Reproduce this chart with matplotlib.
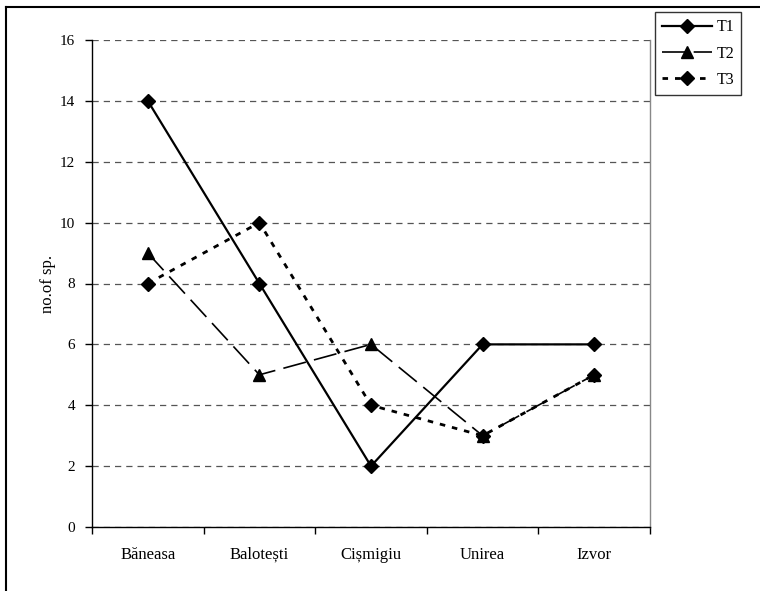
import matplotlib
matplotlib.use("Agg")
import matplotlib.pyplot as plt
from matplotlib.lines import Line2D

sites = ["Băneasa", "Balotești", "Cișmigiu", "Unirea", "Izvor"]
t1 = [14, 8, 2, 6, 6]
t2 = [9, 5, 6, 3, 5]
t3 = [8, 10, 4, 3, 5]
yticks = [0, 2, 4, 6, 8, 10, 12, 14, 16]

plt.rcParams["font.family"] = ["Liberation Serif", "DejaVu Serif"]

W, H = 760, 591
fig = plt.figure(figsize=(W / 100, H / 100), dpi=100)
ax = fig.add_axes([92 / W, 1 - 527 / H, (650 - 92) / W, (527 - 40) / H])

x = list(range(len(sites)))
ax.plot(x, t1, color="black", lw=1.6, marker="D", ms=7.5, label="T1")
ax.plot(x, t2, color="black", lw=1.2, dashes=(14, 5), marker="^", ms=9, label="T2")
ax.plot(x, t3, color="black", lw=2.0, dashes=(2, 2.5), marker="D", ms=7.5, label="T3")

ax.set_xlim(-0.5, len(sites) - 0.5)
ax.set_ylim(0, 16)
ax.set_yticks(yticks)
ax.set_xticks(x)
ax.set_xticklabels(sites, fontsize=12)
for lbl in ax.get_xticklabels():
    lbl.set_verticalalignment("baseline")
ax.set_xticks([i - 0.5 for i in range(len(sites) + 1)], minor=True)
ax.tick_params(axis="x", which="major", length=0, pad=23)
ax.tick_params(axis="x", which="minor", length=5, width=1, direction="out")
ax.tick_params(axis="y", length=5, width=1, direction="out", labelsize=11, pad=7)
ax.yaxis.grid(True, color="#555555", lw=0.9, dashes=(5, 4))
ax.set_axisbelow(True)
ax.spines["top"].set_visible(False)
ax.spines["right"].set_color("#888888")
ax.spines["right"].set_linewidth(1)
ax.spines["left"].set_linewidth(1)
ax.spines["bottom"].set_linewidth(1)
ax.set_ylabel("no.of sp.", fontsize=12, labelpad=3)

leg = fig.legend(loc="upper left", bbox_to_anchor=(655 / W, 1 - 12 / H),
                 frameon=True, fancybox=False, edgecolor="black", fontsize=11.5,
                 handlelength=3.1, handletextpad=0.3, borderpad=0.45,
                 labelspacing=0.65, borderaxespad=0)
leg.get_frame().set_linewidth(1)

# outer frame: left and top edges
fig.add_artist(Line2D([6 / W, 6 / W], [0, 1 - 7 / H], transform=fig.transFigure,
                      color="black", lw=1.5))
fig.add_artist(Line2D([6 / W, 1], [1 - 7 / H, 1 - 7 / H], transform=fig.transFigure,
                      color="black", lw=1.5))

fig.savefig("out.png", dpi=100)
